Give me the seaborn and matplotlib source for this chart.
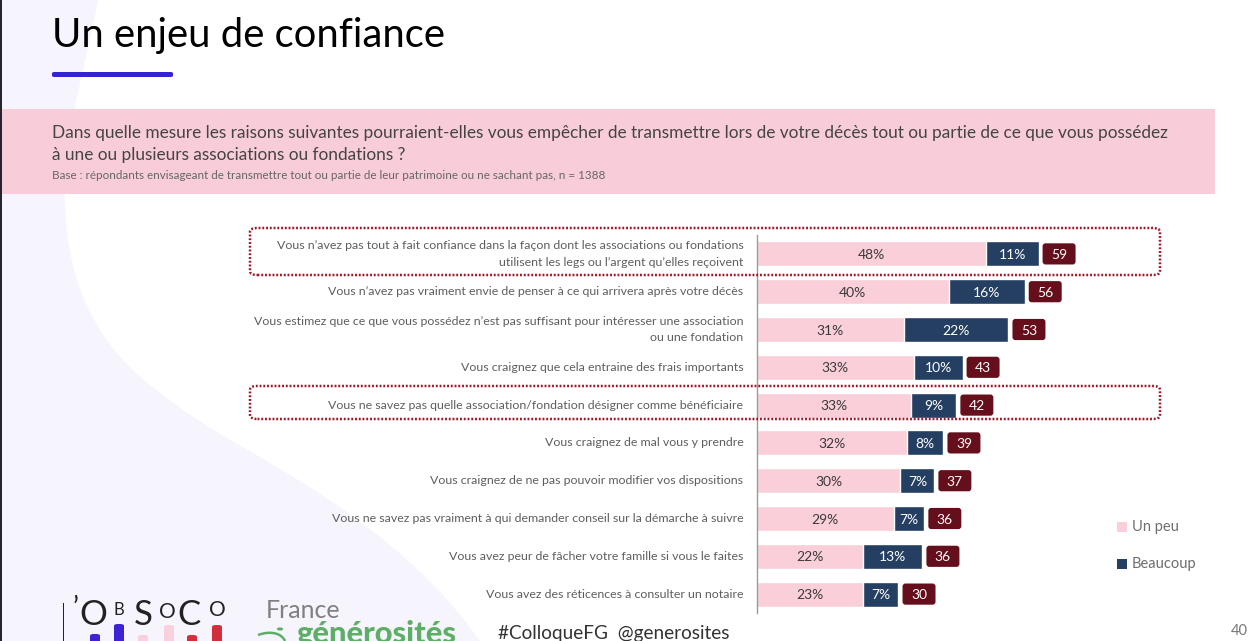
import matplotlib
matplotlib.use('Agg')
import matplotlib.pyplot as plt
import pandas as pd
import seaborn as sns
from matplotlib.patches import Circle, FancyBboxPatch, PathPatch, Rectangle
from matplotlib.path import Path

W, H = 1256, 641

raisons = [
    "Vous n’avez pas tout à fait confiance dans la façon dont les associations ou fondations\nutilisent les legs ou l’argent qu’elles reçoivent",
    "Vous n’avez pas vraiment envie de penser à ce qui arrivera après votre décès",
    "Vous estimez que ce que vous possédez n’est pas suffisant pour intéresser une association\nou une fondation",
    "Vous craignez que cela entraine des frais importants",
    "Vous ne savez pas quelle association/fondation désigner comme bénéficiaire",
    "Vous craignez de mal vous y prendre",
    "Vous craignez de ne pas pouvoir modifier vos dispositions",
    "Vous ne savez pas vraiment à qui demander conseil sur la démarche à suivre",
    "Vous avez peur de fâcher votre famille si vous le faites",
    "Vous avez des réticences à consulter un notaire",
]
un_peu = [48.1, 40.2, 30.8, 32.9, 32.4, 31.4, 30.1, 28.7, 22.2, 22.2]
beaucoup = [10.9, 15.9, 21.9, 10.2, 9.4, 7.7, 7.1, 6.4, 12.5, 7.5]
labels_un_peu = [48, 40, 31, 33, 33, 32, 30, 29, 22, 23]
labels_beaucoup = [11, 16, 22, 10, 9, 8, 7, 7, 13, 7]
labels_total = [59, 56, 53, 43, 42, 39, 37, 36, 36, 30]

PINK = '#FACFD9'
NAVY = '#253F63'
WINE = '#650F1C'
GREY = '#5E5E5E'
FONT = 'Lato'

sns.set_theme(style='white')
plt.rcParams['font.family'] = [FONT, 'DejaVu Sans']

df = pd.DataFrame({'raison': raisons, 'un_peu': un_peu, 'beaucoup': beaucoup})
df['total'] = df['un_peu'] + df['beaucoup']

fig = plt.figure(figsize=(W / 100, H / 100), dpi=100, facecolor='white')


def fx(x):
    return x / W


def fy(y):
    return 1 - y / H


def pts(points):
    return [(fx(a), fy(b)) for a, b in points]


# ── Slide background ─────────────────────────────────────────────────────────
blob_xy = [(0, 0), (98, 0),
           (85, 70), (62, 140), (65, 205),
           (68, 290), (100, 345), (150, 385),
           (200, 425), (240, 445), (265, 460),
           (330, 498), (420, 555), (480, 641),
           (0, 641), (0, 0)]
blob_codes = [Path.MOVETO, Path.LINETO] + [Path.CURVE4] * 12 + [Path.LINETO, Path.CLOSEPOLY]
fig.add_artist(PathPatch(Path(pts(blob_xy), blob_codes), transform=fig.transFigure, fc='#F6F5FE', ec='none', zorder=0))
fig.add_artist(Rectangle((0, 0), fx(2), 1, transform=fig.transFigure, fc='#26262E', ec='none', zorder=1))
fig.add_artist(Rectangle((fx(2), fy(194)), fx(1213), 85 / H, transform=fig.transFigure, fc='#F8CDD9', ec='none', zorder=1))
fig.add_artist(FancyBboxPatch((fx(52), fy(77)), fx(121), 5 / H, transform=fig.transFigure,
                              boxstyle='round,pad=0,rounding_size=0.002', fc='#3423D2', ec='none', zorder=2))

# ── Chart ────────────────────────────────────────────────────────────────────
ax = fig.add_axes([fx(756.5), fy(613), fx(443), 378 / H], facecolor='none')
sns.barplot(data=df, x='total', y='raison', color=NAVY, saturation=1, width=0.66, ax=ax)
sns.barplot(data=df, x='un_peu', y='raison', color=PINK, saturation=1, width=0.66, ax=ax)
ax.set_xlim(0, 443 / 4.78)
ax.set_ylim(9.5, -0.5)
ax.set_xlabel('')
ax.set_ylabel('')
ax.set_xticks([])
ax.tick_params(axis='y', length=0, pad=9.5, labelsize=8.95, labelcolor=GREY)
for lab in ax.get_yticklabels():
    lab.set_linespacing(1.58)
    lab.set_ha('right')
    lab.set_va('center')
for side in ['top', 'right', 'bottom']:
    ax.spines[side].set_visible(False)
ax.spines['left'].set_color('#9A9A9A')
ax.spines['left'].set_linewidth(1)

for i, (p, b, lp, lb, lt) in enumerate(zip(un_peu, beaucoup, labels_un_peu, labels_beaucoup, labels_total)):
    total = p + b
    ax.text(p / 2, i + 0.03, f'{lp}%', ha='center', va='center', fontsize=10, color='#3A3A3A')
    ax.text(p + b / 2, i + 0.03, f'{lb}%', ha='center', va='center', fontsize=10, color='white')
    ax.add_patch(FancyBboxPatch((total + 0.85, i - 0.28), 6.9, 0.56, boxstyle='round,pad=0,rounding_size=0.6',
                                mutation_aspect=0.132, fc=WINE, ec='none', zorder=3))
    ax.text(total + 4.3, i + 0.03, str(lt), ha='center', va='center', fontsize=10, color='white', zorder=4)

# Dotted highlight frames
for x0, y0, x1, y1 in [(250, 228, 1160, 275), (250, 386, 1160, 419)]:
    fig.add_artist(FancyBboxPatch((fx(x0), fy(y1)), fx(x1 - x0), (y1 - y0) / H, transform=fig.transFigure,
                                  boxstyle='round,pad=0,rounding_size=0.006', fc='none', ec='#9E1428',
                                  lw=1.8, ls=(0, (0.75, 0.75)), zorder=5))

# Legend
for y, col, name in [(527, PINK, 'Un peu'), (564, NAVY, 'Beaucoup')]:
    fig.add_artist(Rectangle((fx(1117), fy(y + 5)), fx(10), 10 / H, transform=fig.transFigure, fc=col, ec='none'))
    fig.text(fx(1132), fy(y), name, fontsize=10.5, color='#6E6E6E', va='center', ha='left')

# ── Header text ──────────────────────────────────────────────────────────────
fig.text(fx(52), fy(35), 'Un enjeu de confiance', fontsize=28.8, color='black', va='center', ha='left')
fig.text(fx(52), fy(133), 'Dans quelle mesure les raisons suivantes pourraient-elles vous empêcher de transmettre lors de votre décès tout ou partie de ce que vous possédez',
         fontsize=12.45, color='#444444', va='center', ha='left')
fig.text(fx(52), fy(155), 'à une ou plusieurs associations ou fondations ?', fontsize=12.45, color='#444444', va='center', ha='left')
fig.text(fx(52), fy(175.5), 'Base : répondants envisageant de transmettre tout ou partie de leur patrimoine ou ne sachant pas, n = 1388',
         fontsize=8.4, color='#666666', va='center', ha='left')

# ── Footer: logos, hashtag, page number ──────────────────────────────────────
fig.add_artist(Rectangle((fx(62.5), 0), fx(1.5), 38 / H, transform=fig.transFigure, fc='#222222', ec='none'))
logo_letters = [("’", 75, 609, 20), ('O', 93, 615, 25), ('B', 119, 610, 12), ('S', 143, 615, 25),
                ('O', 167, 612, 15), ('C', 189, 615, 25), ('O', 217, 610, 15)]
for s, x, y, size in logo_letters:
    fig.text(fx(x), fy(y), s, fontsize=size, color='#222222', ha='center', va='center')
logo_bars = [(95, 634, '#3D22D6'), (119, 624, '#3D22D6'), (143, 635, '#FAD0DC'),
             (169, 625, '#FAD0DC'), (192, 635, '#D22F3C'), (217, 625, '#D22F3C')]
for x, top, col in logo_bars:
    fig.add_artist(FancyBboxPatch((fx(x - 5), fy(660)), fx(10), (660 - top) / H, transform=fig.transFigure,
                                  boxstyle='round,pad=0,rounding_size=0.003', fc=col, ec='none', zorder=2))
fig.text(fx(266), fy(611), 'France', fontsize=18, color='#808080', va='center', ha='left')
fig.text(fx(296), fy(634), 'générosités', fontsize=22.2, fontweight='black', color='#5FAE68', va='center', ha='left')
swoosh = [(258, 635), (272, 630), (282, 634), (285, 641)]
fig.add_artist(PathPatch(Path(pts(swoosh), [Path.MOVETO, Path.CURVE4, Path.CURVE4, Path.CURVE4]),
                         transform=fig.transFigure, fc='none', ec='#5FAE68', lw=1.8))
fig.add_artist(Circle((fx(280), fy(629)), 0.0025, transform=fig.transFigure, fc='#5FAE68', ec='none'))

fig.text(fx(498), fy(633), '#ColloqueFG  @generosites', fontsize=13.7, color='#333333', va='center', ha='left')
fig.text(fx(1248), fy(631), '40', fontsize=10.5, color='#777777', va='center', ha='right')

fig.savefig('out.png', dpi=100)
plt.close(fig)
